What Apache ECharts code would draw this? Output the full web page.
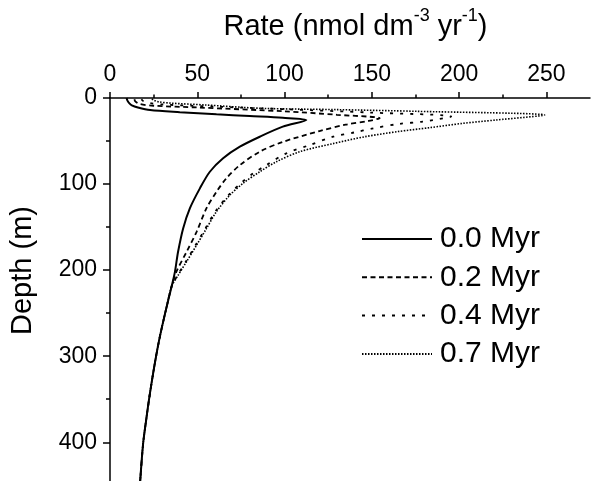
<!DOCTYPE html>
<html>
<head>
<meta charset="utf-8">
<script src="https://cdn.jsdelivr.net/npm/echarts@6/dist/echarts.min.js"></script>
<style>html,body{margin:0;padding:0;background:#fff}#c{width:592px;height:481px}</style>
</head>
<body>
<div id="c"></div>
<script>
var seriesNames = ['0.0 Myr', '0.2 Myr', '0.4 Myr', '0.7 Myr'];
var xTicks = [0, 50, 100, 150, 200, 250];
var xMinor = [25, 75, 125, 175, 225];
var yTicks = [0, 100, 200, 300, 400];
var yMinor = [50, 150, 250, 350];

// shared deep tail (all curves merge below ~220 m)
var tailRate  = [32.4, 28.6, 25.7, 22.9, 21.0, 19.0, 17.3];
var tailDepth = [243, 277, 308, 343, 370, 401, 445];

var rate00  = [9.5, 10.0, 11.0, 12.5, 16, 23, 40, 61, 80, 99, 112.5, 99, 85.8, 74.4, 64.8, 57.2, 51.5, 45.8, 41.9, 39.0, 37.2, 35.3];
var depth00 = [0, 3, 6, 8.5, 11, 14, 16.5, 19, 21, 23, 25.6, 33.3, 45, 56.6, 70, 85.7, 105, 128, 151.5, 178.7, 202, 219];

var rate02  = [14, 14.5, 17, 25, 50, 100, 130, 154.5, 148, 135, 120, 99, 85.8, 74.4, 66.8, 61, 55.3, 49.6, 43.9, 38.0, 35.3];
var depth02 = [1.5, 4, 7, 9, 11, 15.5, 19.5, 23.5, 26.7, 31, 38.5, 51, 62.4, 78, 93, 109, 128, 155.5, 178.7, 202, 219];

var rate04  = [18, 19, 23, 30, 60, 100, 150, 195.5, 179, 166, 150, 140, 127.8, 114.4, 101, 89.6, 82, 75.5, 67.8, 60.3, 54.7, 49.0, 43.5, 38.7, 35.3];
var depth04 = [1.5, 3.5, 6, 7.5, 10, 13, 17, 21.5, 27.5, 30, 35.5, 40, 45, 54.7, 64.3, 78, 87.6, 98, 113, 132, 151.5, 171, 190, 206, 219];

var rate07  = [24, 25, 28, 35, 54, 87, 130, 176, 249, 221, 202, 183, 165, 146, 127.8, 108.7, 95.4, 85.8, 76.3, 68.6, 61, 55.3, 49.6, 43.9, 39.0, 35.3];
var depth07 = [1, 2.5, 4.5, 6, 8, 12, 13.5, 15.5, 19.8, 25.6, 29.5, 34.5, 39, 45, 53, 62.4, 74, 85.7, 99, 113, 132, 151.5, 171, 190, 206, 219];

function zip(r, d) {
  var out = [];
  for (var i = 0; i < r.length; i++) out.push([r[i], d[i]]);
  for (var j = 0; j < tailRate.length; j++) out.push([tailRate[j], tailDepth[j]]);
  return out;
}
var rates = [rate00, rate02, rate04, rate07];
var depths = [depth00, depth02, depth04, depth07];
var styles = [
  {type: 'solid', width: 2},
  {type: [5, 3.5], width: 1.8},
  {type: [3, 7], width: 1.8},
  {type: [1.5, 1.5], width: 1.6}
];

var FONT = 'Liberation Sans, Arial, sans-serif';
var chart = echarts.init(document.getElementById('c'), null, {renderer: 'canvas'});

var series = seriesNames.map(function (n, i) {
  return {
    name: n, type: 'line', xAxisIndex: 0, yAxisIndex: 0,
    data: zip(rates[i], depths[i]),
    symbol: 'none', smooth: 0.3, clip: true,
    lineStyle: {color: '#000', type: styles[i].type, width: styles[i].width},
    itemStyle: {color: '#000'}
  };
});

chart.setOption({
  animation: false,
  backgroundColor: '#fff',
  grid: {left: 110, top: 98, right: 2, bottom: 0, containLabel: false},
  legend: {
    orient: 'vertical', left: 361, top: 224, padding: 0,
    itemWidth: 70, itemHeight: 14, itemGap: 8.3,
    data: seriesNames,
    itemStyle: {opacity: 0},
    textStyle: {fontFamily: FONT, fontSize: 30, color: '#000', lineHeight: 30, padding: [0, 0, 0, 3]}
  },
  xAxis: [{
    type: 'value', position: 'top', min: 0, max: 275,
    name: '{a|Rate (nmol dm}{s|-3}{a| yr}{s|-1}{a|)}',
    nameLocation: 'middle', nameGap: 51,
    nameTextStyle: {
      padding: [0, 0, 0, 11],
      rich: {
        a: {fontFamily: FONT, fontSize: 29, color: '#000'},
        s: {fontFamily: FONT, fontSize: 18, color: '#000', verticalAlign: 'top', padding: [0, 0, 22, 0]}
      }
    },
    axisLine: {show: true, lineStyle: {color: '#000', width: 1.5}},
    axisTick: {show: true, inside: false, length: 6, customValues: xTicks, lineStyle: {color: '#000', width: 1.5}},
    axisLabel: {show: true, customValues: xTicks, margin: 12, fontFamily: FONT, fontSize: 23, color: '#000'},
    splitLine: {show: false}
  }, {
    type: 'value', position: 'top', min: 0, max: 275,
    axisLine: {show: false},
    axisTick: {show: true, inside: false, length: 3.5, customValues: xMinor, lineStyle: {color: '#000', width: 1.5}},
    axisLabel: {show: false},
    splitLine: {show: false}
  }],
  yAxis: [{
    type: 'value', inverse: true, min: 0, max: 445,
    name: 'Depth (m)', nameLocation: 'middle', nameGap: 73, nameRotate: 90,
    nameTextStyle: {fontFamily: FONT, fontSize: 29, color: '#000', padding: [0, 0, 0, 38]},
    axisLine: {show: true, onZero: false, lineStyle: {color: '#000', width: 1.5}},
    axisTick: {show: true, inside: false, length: 7, customValues: yTicks, lineStyle: {color: '#000', width: 1.5}},
    axisLabel: {show: true, customValues: yTicks, margin: 13, fontFamily: FONT, fontSize: 23, color: '#000'},
    splitLine: {show: false}
  }, {
    type: 'value', inverse: true, min: 0, max: 445, position: 'left',
    axisLine: {show: false},
    axisTick: {show: true, inside: false, length: 4, customValues: yMinor, lineStyle: {color: '#000', width: 1.5}},
    axisLabel: {show: false},
    splitLine: {show: false}
  }],
  series: series
});
</script>
</body>
</html>
